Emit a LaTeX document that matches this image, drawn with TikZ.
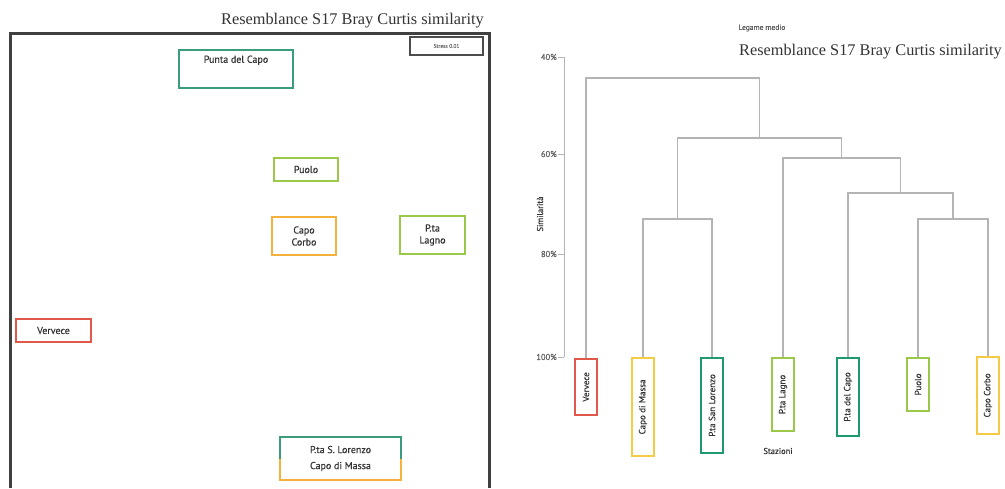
\documentclass[tikz,border=0pt]{standalone}
\usepackage{fontspec}
\setmainfont{Liberation Serif}
\newfontfamily\lab[FakeBold=0.4]{PT Sans}
\definecolor{cteal}{HTML}{3A9C7C}
\definecolor{cdteal}{HTML}{1F9A6E}
\definecolor{clgreen}{HTML}{9CC84A}
\definecolor{corange}{HTML}{F4B13C}
\definecolor{cyellow}{HTML}{F5CB45}
\definecolor{cred}{HTML}{E0584A}
\definecolor{ctxt}{HTML}{333333}
\definecolor{cdline}{HTML}{B4B4B4}
\begin{document}
\begin{tikzpicture}[x=1pt,y=-1pt,
  title/.style={font=\fontsize{16.3}{18}\selectfont, text=ctxt, inner sep=0pt},
  mdsbox/.style={draw=#1, line width=1.8pt, inner sep=1pt, font=\lab\fontsize{10}{12}\selectfont, text=ctxt, align=center},
  leafbox/.style={draw=#1, line width=1.8pt, rotate=90, anchor=east, minimum height=22pt, inner sep=1pt, font=\lab\fontsize{9}{10}\selectfont, text=ctxt},
  dline/.style={draw=cdline, line width=1.3pt},
  axlab/.style={font=\lab\fontsize{8.5}{10}\selectfont, text=ctxt!80, anchor=east, inner sep=1pt}]
\useasboundingbox (0,0) rectangle (1005,488);
% ---------- left panel ----------
\node[title, anchor=base east] (t1) at (484,24) {Resemblance S17 Bray Curtis similarity};
\draw[line width=3pt, draw=black!75] (10,488) -- (10,33) -- (489,33) -- (489,488);
\node[draw=black!70, line width=1.2pt, minimum width=73pt, minimum height=18pt, inner sep=0pt,
      font=\lab\fontsize{5.5}{6}\selectfont, text=black!55] (stress) at (446.5,46) {Stress 0.01};
\node[mdsbox=cteal, minimum width=114pt, minimum height=38pt,
      label={[font=\lab\fontsize{10}{12}\selectfont, text=ctxt, anchor=north, yshift=-3pt]north:Punta del Capo}] (pdc) at (236,69) {};
\node[mdsbox=clgreen, minimum width=64pt, minimum height=23pt] (puolo) at (306,169.5) {Puolo};
\node[mdsbox=corange, minimum width=64pt, minimum height=38pt] (corbo) at (304,236) {Capo\\Corbo};
\node[mdsbox=clgreen, minimum width=65pt, minimum height=38pt] (lagno) at (432.5,235) {P.ta\\Lagno};
\node[mdsbox=cred, minimum width=75pt, minimum height=23pt] (verv) at (53.5,330.5) {Vervece};
\node[inner sep=1pt, minimum width=121pt, minimum height=43pt, align=center,
      font=\lab\fontsize{10}{16}\selectfont, text=ctxt] (slcm) at (340.5,458.5) {P.ta S. Lorenzo\\Capo di Massa};
\draw[draw=cteal, line width=1.8pt] (slcm.west) -- (slcm.north west) -- (slcm.north east) -- (slcm.east);
\draw[draw=corange, line width=1.8pt] (slcm.west) -- (slcm.south west) -- (slcm.south east) -- (slcm.east);
% ---------- right panel ----------
\node[font=\lab\fontsize{7.5}{8}\selectfont, text=black!65] (legame) at (762,28) {Legame medio};
\node[title, anchor=base east] (t2) at (1002,55) {Resemblance S17 Bray Curtis similarity};
\coordinate (ytop) at (564,57);
\coordinate (ybot) at (564,357);
\draw[draw=cdline, line width=1pt] (ytop) -- (ybot);
\foreach \yy/\pp in {57/40,154/60,254/80,357/100}{
  \draw[draw=cdline, line width=0.8pt] (558,\yy) -- (564,\yy);
  \node[axlab] at (558,\yy) {\pp\%};
}
\node[rotate=90, font=\lab\fontsize{8.5}{10}\selectfont, text=ctxt] (simil) at (540,214) {Similarità};
% leaves
\node[leafbox=cred, minimum width=56pt] (lv) at (586,358) {Vervece};
\node[leafbox=cyellow, minimum width=98pt] (lcm) at (643,357) {Capo di Massa};
\node[leafbox=cdteal, minimum width=95pt] (lsl) at (712,357) {P.ta San Lorenzo};
\node[leafbox=clgreen, minimum width=73pt] (lpl) at (783,357) {P.ta Lagno};
\node[leafbox=cdteal, minimum width=78pt] (lpc) at (848,357) {P.ta del Capo};
\node[leafbox=clgreen, minimum width=53pt] (lpu) at (918,357) {Puolo};
\node[leafbox=cyellow, minimum width=77pt] (lcc) at (988,356) {Capo Corbo};
% merges
\coordinate (m1) at (677.5,219);
\coordinate (m2) at (953,219);
\coordinate (m3) at (900.5,193);
\coordinate (m4) at (841.75,158);
\coordinate (m5) at (759.6,138);
\coordinate (m6) at (672.8,78);
\draw[dline] (lcm.east) |- (m1) -| (lsl.east);
\draw[dline] (lpu.east) |- (m2) -| (lcc.east);
\draw[dline] (lpc.east) |- (m3) -| (m2);
\draw[dline] (lpl.east) |- (m4) -| (m3);
\draw[dline] (m1) |- (m5) -| (m4);
\draw[dline] (lv.east) |- (m6) -| (m5);
\node[font=\lab\fontsize{8.5}{10}\selectfont, text=ctxt] (staz) at (778,451) {Stazioni};
\end{tikzpicture}
\end{document}
